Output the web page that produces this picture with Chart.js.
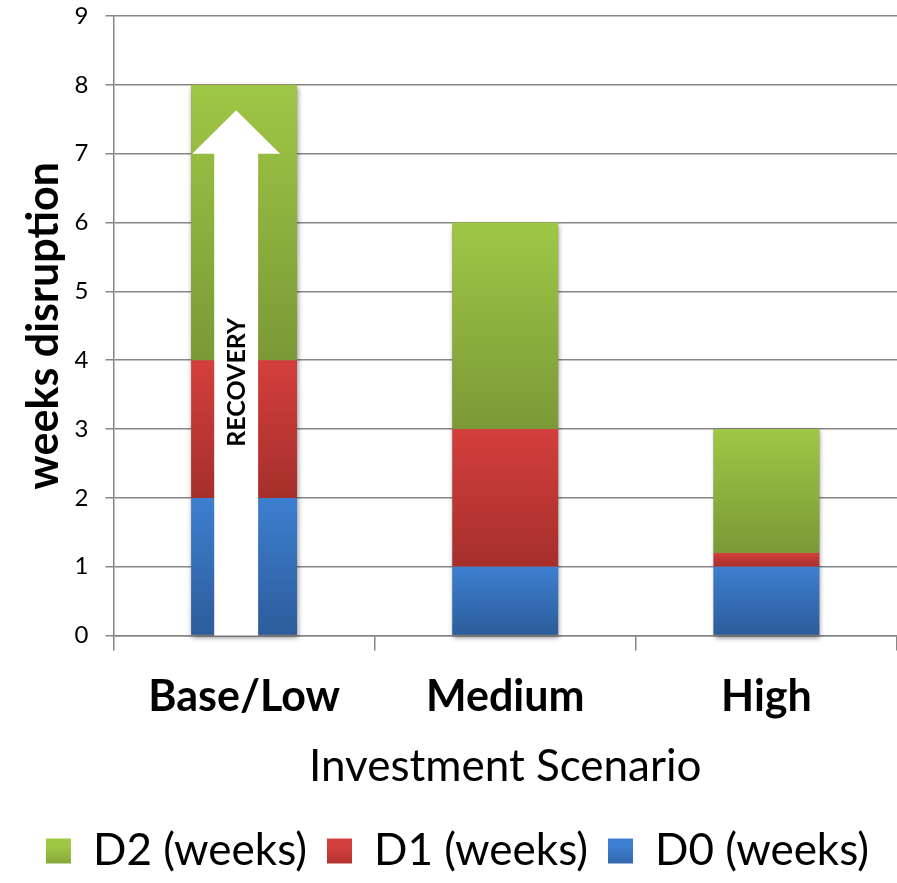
<!DOCTYPE html>
<html>
<head>
<meta charset="utf-8">
<script src="https://cdn.jsdelivr.net/npm/chart.js@4/dist/chart.umd.min.js"></script>
<style>
  body { margin: 0; background: #fff; }
  #wrap { width: 897px; height: 883px; }
</style>
</head>
<body>
<div id="wrap"><canvas id="myChart" width="897" height="883"></canvas></div>
<script>
var scenarios = ['Base/Low', 'Medium', 'High'];
var d0Weeks = [2, 1, 1];
var d1Weeks = [2, 2, 0.2];
var d2Weeks = [4, 3, 1.8];
var yTicks = [0, 1, 2, 3, 4, 5, 6, 7, 8, 9];

// arrow annotation on the first bar (value units)
var arrowCategory = 0;
var arrowHeadBase = 7;
var arrowTip = 7.63;
var arrowLabel = 'RECOVERY';

var FONT = 'Lato, "Open Sans", sans-serif';

var colours = [
    { top: '#3d7fd0', bottom: '#2c5c9a' },
    { top: '#d33f3c', bottom: '#a52f2c' },
    { top: '#9fc746', bottom: '#7b9936' }
];
var allSeries = [d0Weeks, d1Weeks, d2Weeks];

function segmentGradient(context) {
    var chart = context.chart;
    var c = colours[context.datasetIndex];
    var y = chart.scales.y;
    if (!chart.chartArea || !y || context.dataIndex === undefined) return c.top;
    var start = 0;
    for (var i = 0; i < context.datasetIndex; i++) start += allSeries[i][context.dataIndex];
    var end = start + allSeries[context.datasetIndex][context.dataIndex];
    var y0 = y.getPixelForValue(end);
    var y1 = y.getPixelForValue(start);
    if (!isFinite(y0) || !isFinite(y1) || y0 === y1) return c.top;
    var g = chart.ctx.createLinearGradient(0, y0, 0, y1);
    g.addColorStop(0, c.top);
    g.addColorStop(1, c.bottom);
    return g;
}

function legendGradient(ctx, c) {
    var g = ctx.createLinearGradient(0, 846, 0, 872);
    g.addColorStop(0, c.top);
    g.addColorStop(1, c.bottom);
    return g;
}

// soft shadow behind each whole stacked bar
var shadowPlugin = {
    id: 'barShadow',
    beforeDatasetsDraw: function(chart) {
        var ctx = chart.ctx;
        var topMeta = chart.getDatasetMeta(chart.data.datasets.length - 1);
        var base = chart.scales.y.getPixelForValue(0);
        ctx.save();
        ctx.shadowColor = 'rgba(0,0,0,0.45)';
        ctx.shadowBlur = 5;
        ctx.shadowOffsetX = 1;
        ctx.shadowOffsetY = 2;
        ctx.fillStyle = '#888';
        topMeta.data.forEach(function(bar) {
            ctx.fillRect(bar.x - bar.width / 2, bar.y, bar.width, base - bar.y);
        });
        ctx.restore();
    }
};

var arrowPlugin = {
    id: 'recoveryArrow',
    afterDatasetsDraw: function(chart) {
        var ctx = chart.ctx;
        var meta = chart.getDatasetMeta(0);
        var bar = meta.data[arrowCategory];
        var w = bar.width;
        var cx = bar.x - w * 0.075;
        var y = chart.scales.y;
        var yBase = y.getPixelForValue(0);
        var yHead = y.getPixelForValue(arrowHeadBase);
        var yTip = y.getPixelForValue(arrowTip);
        var shaft = w * 0.415 / 2;
        var head = w * 0.83 / 2;
        ctx.save();
        ctx.fillStyle = '#ffffff';
        ctx.beginPath();
        ctx.moveTo(cx - shaft, yBase);
        ctx.lineTo(cx - shaft, yHead);
        ctx.lineTo(cx - head, yHead);
        ctx.lineTo(cx, yTip);
        ctx.lineTo(cx + head, yHead);
        ctx.lineTo(cx + shaft, yHead);
        ctx.lineTo(cx + shaft, yBase);
        ctx.closePath();
        ctx.fill();
        ctx.translate(cx + 1, y.getPixelForValue(3.68));
        ctx.rotate(-Math.PI / 2);
        ctx.fillStyle = '#000';
        ctx.font = 'bold 25px ' + FONT;
        ctx.textAlign = 'center';
        ctx.textBaseline = 'middle';
        ctx.fillText(arrowLabel, 0, 0);
        ctx.restore();
    }
};

var labelNames = ['D0 (weeks)', 'D1 (weeks)', 'D2 (weeks)'];
var datasets = allSeries.map(function(values, i) {
    return {
        label: labelNames[i],
        data: values,
        backgroundColor: segmentGradient,
        borderWidth: 0,
        categoryPercentage: 1,
        barPercentage: 0.405
    };
});

new Chart(document.getElementById('myChart'), {
    type: 'bar',
    data: { labels: scenarios, datasets: datasets },
    plugins: [shadowPlugin, arrowPlugin],
    options: {
        responsive: false,
        animation: false,
        events: [],
        layout: { padding: { left: 18, right: 0, top: 16, bottom: 0 } },
        scales: {
            x: {
                stacked: true,
                grid: {
                    drawOnChartArea: false,
                    drawTicks: true,
                    tickLength: 15,
                    color: '#868686',
                    lineWidth: 1.5
                },
                border: { color: '#868686', width: 1.5 },
                ticks: {
                    color: '#000',
                    font: { family: FONT, size: 43, weight: 'bold' },
                    padding: 21
                },
                title: {
                    display: true,
                    text: 'Investment Scenario',
                    color: '#000',
                    font: { family: FONT, size: 44 },
                    padding: { top: -4, bottom: 16 }
                }
            },
            y: {
                stacked: true,
                min: yTicks[0],
                max: yTicks[yTicks.length - 1],
                afterBuildTicks: function(axis) {
                    axis.ticks = yTicks.map(function(v) { return { value: v }; });
                },
                afterFit: function(axis) {
                    axis.paddingTop = 0;
                },
                grid: { color: '#868686', lineWidth: 1.5, tickLength: 8 },
                border: { color: '#868686', width: 1.5 },
                ticks: {
                    color: '#000',
                    font: { family: FONT, size: 24 },
                    padding: 17
                },
                title: {
                    display: true,
                    text: 'weeks disruption',
                    color: '#000',
                    font: { family: FONT, size: 43, weight: 'bold' },
                    padding: { top: 0, bottom: -12 }
                }
            }
        },
        plugins: {
            tooltip: { enabled: false },
            legend: {
                position: 'bottom',
                reverse: true,
                labels: {
                    color: '#000',
                    font: { family: FONT, size: 44 },
                    boxWidth: 25,
                    boxHeight: 25,
                    padding: 20,
                    generateLabels: function(chart) {
                        return chart.data.datasets.map(function(ds, i) {
                            return {
                                text: ds.label,
                                fillStyle: legendGradient(chart.ctx, colours[i]),
                                strokeStyle: 'rgba(0,0,0,0)',
                                lineWidth: 0,
                                datasetIndex: i,
                                hidden: false
                            };
                        });
                    }
                }
            }
        }
    }
});
</script>
</body>
</html>
